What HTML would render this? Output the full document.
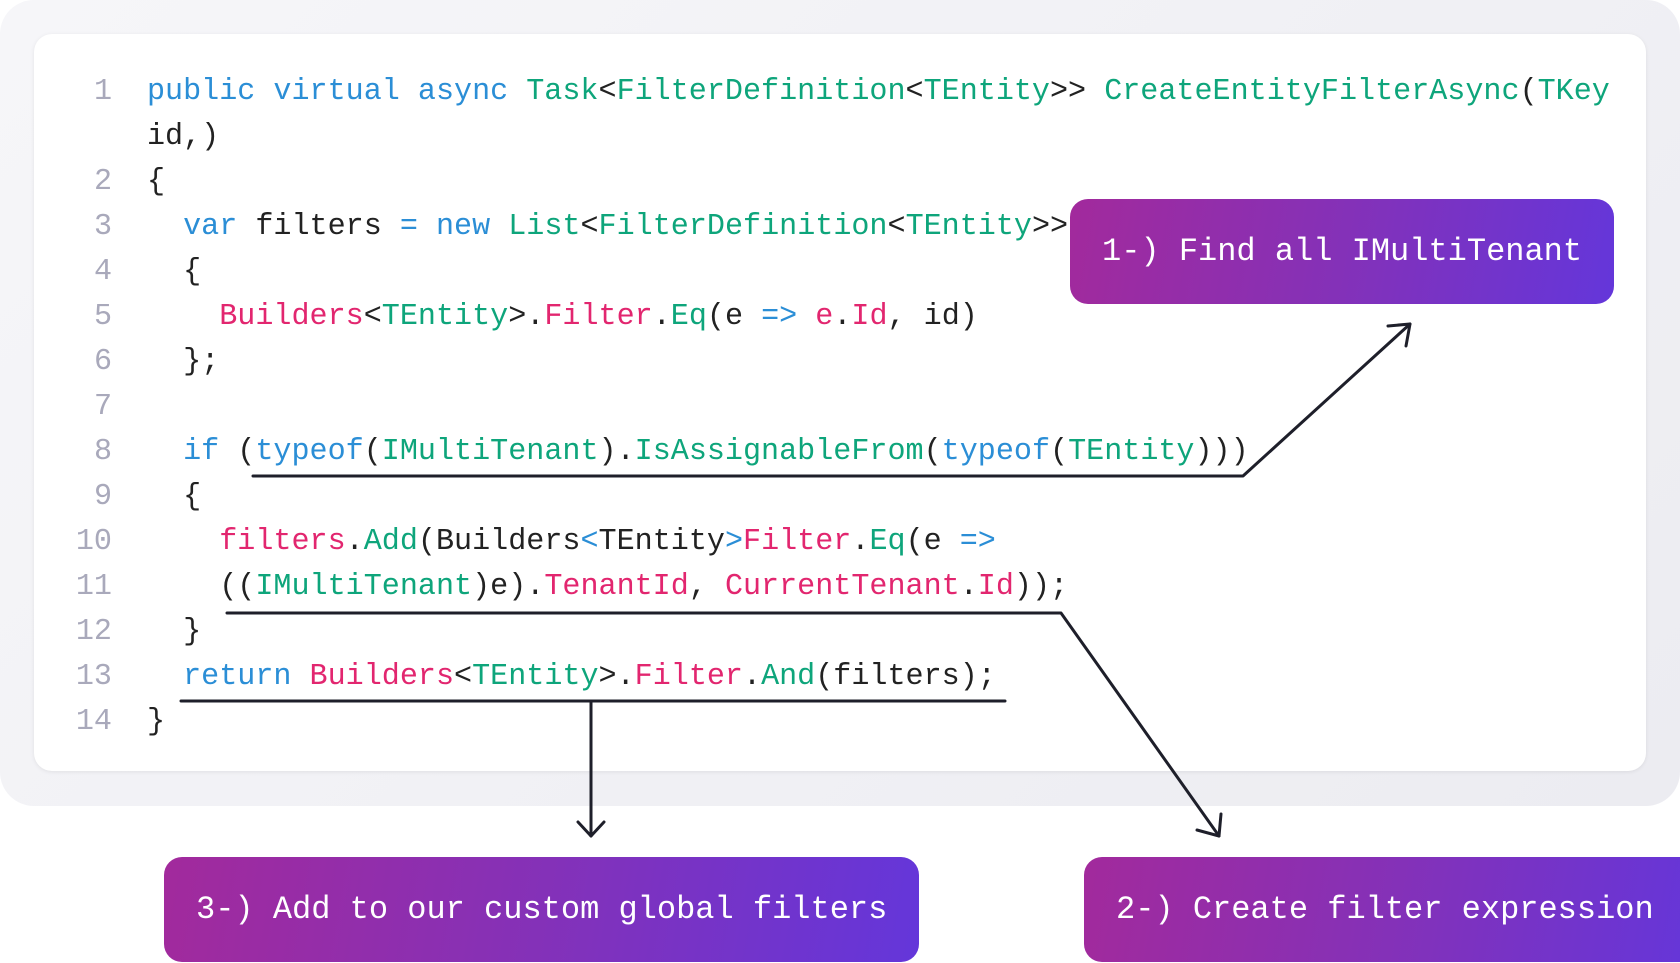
<!DOCTYPE html>
<html><head><meta charset="utf-8"><style>
html,body{margin:0;padding:0;background:#fff;}
body{width:1680px;height:963px;position:relative;overflow:hidden;font-family:"Liberation Mono",monospace;}
.panel{position:absolute;left:0;top:0;width:1680px;height:806px;background:linear-gradient(135deg,#f6f6f9,#ececf1);border-radius:34px;}
.card{position:absolute;left:34px;top:34px;width:1612px;height:737px;background:#fff;border-radius:18px;box-shadow:0 1px 4px rgba(0,0,0,0.08);}
.ln{position:absolute;left:60px;width:52px;text-align:right;color:#a9a9bb;font-size:30.1px;line-height:36px;}
.cd{position:absolute;left:147px;white-space:pre;color:#222;font-size:30.1px;line-height:36px;}
.b{color:#2b8ed6}.g{color:#0ea57b}.p{color:#e2266f}
.box{position:absolute;height:105px;border-radius:18px;background:linear-gradient(100deg,#a22a9c,#8431b8 50%,#6436da);color:#fff;font-size:32px;line-height:105px;white-space:pre;box-sizing:border-box;}
svg{position:absolute;left:0;top:0;}
</style></head><body>
<div class="panel"></div>
<div class="card"></div>
<div class="ln" style="top:74px">1</div>
<div class="ln" style="top:164px">2</div>
<div class="ln" style="top:209px">3</div>
<div class="ln" style="top:254px">4</div>
<div class="ln" style="top:299px">5</div>
<div class="ln" style="top:344px">6</div>
<div class="ln" style="top:389px">7</div>
<div class="ln" style="top:434px">8</div>
<div class="ln" style="top:479px">9</div>
<div class="ln" style="top:524px">10</div>
<div class="ln" style="top:569px">11</div>
<div class="ln" style="top:614px">12</div>
<div class="ln" style="top:659px">13</div>
<div class="ln" style="top:704px">14</div>
<div class="cd" style="top:74px"><span class="b">public virtual async</span> <span class="g">Task</span>&lt;<span class="g">FilterDefinition</span>&lt;<span class="g">TEntity</span>&gt;&gt; <span class="g">CreateEntityFilterAsync</span>(<span class="g">TKey</span></div>
<div class="cd" style="top:119px">id,)</div>
<div class="cd" style="top:164px">{</div>
<div class="cd" style="top:209px">  <span class="b">var</span> filters <span class="b">=</span> <span class="b">new</span> <span class="g">List</span>&lt;<span class="g">FilterDefinition</span>&lt;<span class="g">TEntity</span>&gt;&gt;</div>
<div class="cd" style="top:254px">  {</div>
<div class="cd" style="top:299px">    <span class="p">Builders</span>&lt;<span class="g">TEntity</span>&gt;.<span class="p">Filter</span>.<span class="g">Eq</span>(e <span class="b">=&gt;</span> <span class="p">e</span>.<span class="p">Id</span>, id)</div>
<div class="cd" style="top:344px">  };</div>
<div class="cd" style="top:434px">  <span class="b">if</span> (<span class="b">typeof</span>(<span class="g">IMultiTenant</span>).<span class="g">IsAssignableFrom</span>(<span class="b">typeof</span>(<span class="g">TEntity</span>)))</div>
<div class="cd" style="top:479px">  {</div>
<div class="cd" style="top:524px">    <span class="p">filters</span>.<span class="g">Add</span>(Builders<span class="b">&lt;</span>TEntity<span class="b">&gt;</span><span class="p">Filter</span>.<span class="g">Eq</span>(e <span class="b">=&gt;</span></div>
<div class="cd" style="top:569px">    ((<span class="g">IMultiTenant</span>)e).<span class="p">TenantId</span>, <span class="p">CurrentTenant</span>.<span class="p">Id</span>));</div>
<div class="cd" style="top:614px">  }</div>
<div class="cd" style="top:659px">  <span class="b">return</span> <span class="p">Builders</span>&lt;<span class="g">TEntity</span>&gt;.<span class="p">Filter</span>.<span class="g">And</span>(filters);</div>
<div class="cd" style="top:704px">}</div>

<div class="box" style="left:1070px;top:199px;width:544px;padding-left:32px;">1-) Find all IMultiTenant</div>
<div class="box" style="left:164px;top:857px;width:755px;padding-left:32px;">3-) Add to our custom global filters</div>
<div class="box" style="left:1084px;top:857px;width:620px;padding-left:32px;">2-) Create filter expression</div>

<svg width="1680" height="963" viewBox="0 0 1680 963" fill="none" stroke="#1e1f2a" stroke-width="3" stroke-linecap="round" stroke-linejoin="round">
<polyline points="253,476 1243,476 1410,324"/>
<polyline points="1388,326 1410,324 1406,346"/>
<polyline points="227,613 1061,613 1219,836"/>
<polyline points="1197,830 1219,836 1221,814"/>
<polyline points="181,701 1005,701"/>
<polyline points="591,701 591,836"/>
<polyline points="578,822 591,836 604,822"/>
</svg>
</body></html>
